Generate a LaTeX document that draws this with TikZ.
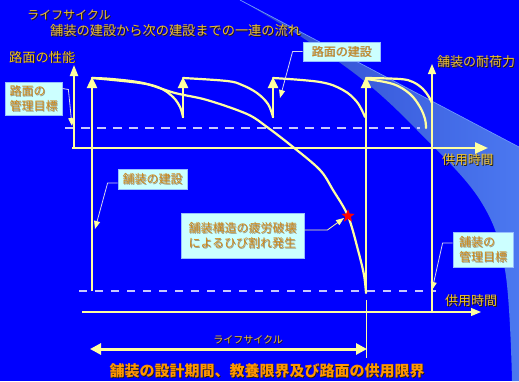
\documentclass[tikz,border=0pt]{standalone}
\usepackage{fontspec}
\newfontfamily\cjk{Noto Sans CJK JP}
\usetikzlibrary{arrows.meta,shapes.geometric}
\definecolor{bgblue}{RGB}{0,0,255}
\definecolor{ly}{RGB}{255,255,160}
\definecolor{gold}{RGB}{238,192,40}
\definecolor{boxfill}{RGB}{204,255,255}
\definecolor{boxline}{RGB}{150,190,255}
\definecolor{boxtext}{RGB}{205,135,25}
\definecolor{boxshadow}{RGB}{150,150,130}
\definecolor{dashcol}{RGB}{200,200,255}
\definecolor{callcol}{RGB}{215,215,235}
\definecolor{titlecol}{RGB}{255,150,0}
\definecolor{shadowcol}{RGB}{40,30,0}
\definecolor{beamA}{RGB}{45,70,205}
\definecolor{beamB}{RGB}{75,120,240}
\definecolor{beamline}{RGB}{110,150,255}
\newcommand\shtext[4]{%
  \node[#3,text=shadowcol,xshift=0.9pt,yshift=-0.9pt] at #2 {#4};
  \node[#3] (#1) at #2 {#4};}
\newcommand\boxtxt[2]{%
  \node[boxlab,text=boxshadow,xshift=0.8pt,yshift=-0.8pt] at (#1.center) {#2};
  \node[boxlab] at (#1.center) {#2};}
\begin{document}
\begin{tikzpicture}[x=1pt,y=-1pt,
  thick line/.style={draw=ly,line width=2.4pt},
  curveline/.style={draw=ly,line width=2.2pt,line cap=round,line join=round},
  upar/.style={thick line,-{Triangle[width=10pt,length=11pt]}},
  thinar/.style={draw=ly,line width=1.1pt,-{Triangle[width=8pt,length=10pt]}},
  dashline/.style={draw=dashcol,line width=1.4pt,dash pattern=on 9pt off 7pt},
  callout/.style={draw=callcol,line width=0.8pt,-{Triangle[width=6pt,length=8pt,color=ly]}},
  boxnode/.style={fill=boxfill,draw=boxline,line width=0.8pt,inner sep=0pt},
  boxlab/.style={text=boxtext,font=\cjk\fontsize{12}{15}\selectfont,align=left,inner sep=0pt},
  lab/.style={text=gold,inner sep=0pt},
]
\useasboundingbox (0,0) rectangle (519,381);
\fill[bgblue] (0,0) rectangle (519,381);
% light beam
\shade[left color=beamA,right color=beamB]
  (240,0) -- (519,147) -- (519,381) --
  plot[smooth,tension=0.6] coordinates {(512,381) (505,270) (480,200) (417,130) (363,80) (300,36) (240,0)} -- cycle;
\draw[beamline,line width=0.7pt] (240,0) -- (519,147);

% coordinates
\coordinate (ax0) at (74,148);  \coordinate (ax0t) at (74,65);
\coordinate (hx0) at (72,148);  \coordinate (hx1) at (488,148);
\coordinate (lx0) at (82,312);  \coordinate (lx1) at (481,312);
\coordinate (v1b) at (92,291);  \coordinate (v1t) at (92,77);
\coordinate (v2b) at (183,118); \coordinate (v2t) at (183,77);
\coordinate (v3b) at (273,118); \coordinate (v3t) at (273,77);
\coordinate (v4b) at (366,293); \coordinate (v4t) at (366,77);
\coordinate (v5b) at (432,312); \coordinate (v5t) at (432,64);
\coordinate (m0) at (366,300);  \coordinate (m1) at (366,358);
\coordinate (lc0) at (90,349);  \coordinate (lc1) at (367,349);
\coordinate (d0) at (65,128);   \coordinate (d1) at (420,128);
\coordinate (e0) at (79,291);   \coordinate (e1) at (436,291);

% dashed management targets
\draw[dashline] (d0) -- (d1);
\draw[dashline,dash pattern=on 8pt off 8pt] (e0) -- (e1);

% curves
\draw[curveline] plot[smooth,tension=0.55] coordinates {(92,78) (112,79) (143,83) (175,93) (207,100) (247,114) (267,127) (293,147) (320,170) (333,190) (348,216) (358,250) (364,275) (366,293)};
\draw[curveline] plot[smooth,tension=0.6] coordinates {(92,78) (140,83) (160,88) (173,97) (180,107) (183,117)};
\draw[curveline] plot[smooth,tension=0.6] coordinates {(183,78) (227,81) (242,85) (257,93) (268,104) (273,117)};
\draw[curveline] plot[smooth,tension=0.6] coordinates {(273,78) (320,82) (343,90) (357,102) (365,117)};
\draw[curveline] plot[smooth,tension=0.6] coordinates {(366,79) (393,84) (410,94) (420,107) (425,119) (426,128)};
\draw[curveline] plot[smooth,tension=0.6] coordinates {(366,78) (400,79) (413,82) (423,89) (429,97) (432,103)};

% axes and construction arrows
\draw[upar,line width=2pt,-{Triangle[width=8pt,length=11pt]}] (ax0) -- (ax0t);
\draw[thick line,-{Triangle[width=11pt,length=13pt]}] (hx0) -- (hx1);
\draw[thinar] (lx0) -- (lx1);
\draw[upar] (v1b) -- (v1t);
\draw[upar] (v2b) -- (v2t);
\draw[upar] (v3b) -- (v3t);
\draw[upar] (v4b) -- (v4t);
\draw[thinar] (v5b) -- (v5t);
\draw[draw=ly,line width=1pt] (m0) -- (m1);
\draw[draw=ly,line width=3pt,{Triangle[width=11pt,length=11pt]}-{Triangle[width=11pt,length=11pt]}] (lc0) -- (lc1);

% star
\node[star,star points=5,star point ratio=2.4,fill=red,minimum size=14pt,inner sep=0pt] (star) at (348,216) {};

% boxes
\node[boxnode,minimum width=77pt,minimum height=19pt] (b1) at (341.5,51.5) {};
\node[boxnode,minimum width=57pt,minimum height=33pt] (b2) at (33.5,98.5) {};
\node[boxnode,minimum width=69pt,minimum height=20pt] (b3) at (152.5,179) {};
\node[boxnode,minimum width=123pt,minimum height=45pt] (b4) at (242.5,235.5) {};
\node[boxnode,minimum width=60pt,minimum height=35pt] (b5) at (483,249.5) {};
\boxtxt{b1}{路面の建設}
\boxtxt{b2}{路面の\\管理目標}
\boxtxt{b3}{舗装の建設}
\boxtxt{b4}{舗装構造の疲労破壊\\によるひび割れ発生}
\boxtxt{b5}{舗装の\\管理目標}

% callouts
\coordinate (c1) at (280,98);
\coordinate (c2) at (72,126);
\coordinate (c3) at (95,229);
\coordinate (c4) at (344,218);
\coordinate (c5) at (432,290);
\draw[callout] (b1.west) -- ++(-10,0) -- (c1);
\draw[callout] ([yshift=10pt]b2.east) -- ++(6,1) -- (c2);
\draw[callout] ([yshift=-4pt]b3.west) -- ++(-10,0) -- (c3);
\draw[callout,draw=ly] ([yshift=5.5pt]b4.east) -- ++(23,0) -- (c4);
\draw[callout] ([yshift=6.5pt]b5.west) -- ++(-10,0) -- (c5);

% labels
\shtext{t1}{(27,15)}{lab,anchor=west,font=\cjk\fontsize{12}{14}\selectfont}{ライフサイクル}
\shtext{t2}{(50,31)}{lab,anchor=west,font=\cjk\fontsize{13.2}{15}\selectfont}{舗装の建設から次の建設までの一連の流れ}
\shtext{t3}{(9,57)}{lab,anchor=west,font=\cjk\fontsize{13.2}{15}\selectfont}{路面の性能}
\shtext{t4}{(437,62)}{lab,anchor=west,font=\cjk\fontsize{13}{15}\selectfont}{舗装の耐荷力}
\shtext{t5}{(442,160)}{lab,anchor=west,font=\cjk\fontsize{12.8}{15}\selectfont}{供用時間}
\shtext{t6}{(445,301)}{lab,anchor=west,font=\cjk\fontsize{13}{15}\selectfont}{供用時間}
\shtext{t7}{(248,340)}{lab,font=\cjk\fontsize{10}{12}\selectfont}{ライフサイクル}
\shtext{t8}{(267,371)}{lab,text=titlecol,font=\cjk\bfseries\fontsize{15}{17}\selectfont}{舗装の設計期間、教養限界及び路面の供用限界}
\end{tikzpicture}
\end{document}
